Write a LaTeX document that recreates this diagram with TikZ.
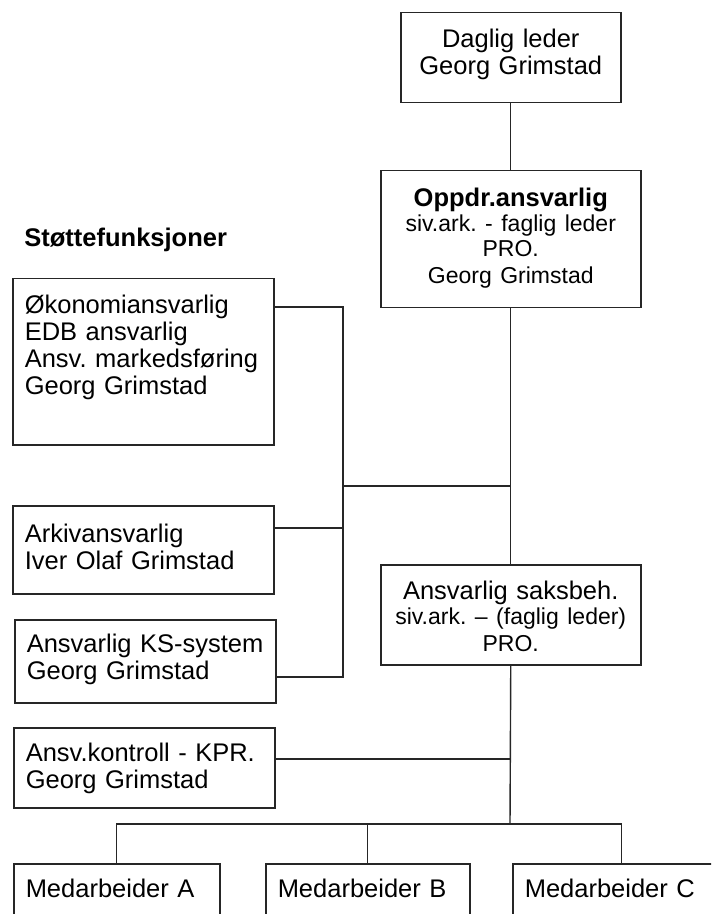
\documentclass[tikz,border=0pt]{standalone}
\usepackage{fontspec}
\setmainfont{Liberation Sans}
\usepackage{tikz}
\usetikzlibrary{positioning}

\newcommand\fbig{\fontsize{12.75pt}{13.5pt}\selectfont}
\newcommand\fsmall{\fontsize{11.5pt}{12.5pt}\selectfont}
\frenchspacing
\hyphenpenalty=10000

\tikzset{
  orgbox/.style={draw=black!85, line width=0.75pt, inner xsep=6pt, inner ysep=0pt,
    anchor=north west, font=\fbig},
  leftbox/.style={orgbox, text width=118.5pt, align=left},
  midbox/.style={orgbox, text width=118pt, align=center},
  link/.style={draw=black!85, line width=0.7pt}
}

\begin{document}
\begin{tikzpicture}[x=0.5pt, y=-0.5pt]
  \useasboundingbox (0,0) rectangle (711,914);
  \clip (0,0) rectangle (711,914);
  % Leader line (right)
  \node[orgbox, text width=98pt, align=center, text height=17.5pt, text depth=27.5pt]
    (daglig) at (400,12) {Daglig leder\\Georg Grimstad};
  \node[midbox, text height=18pt, text depth=50.5pt]
    (oppdr) at (380,170) {{\fbig\bfseries Oppdr.ansvarlig}\\\fsmall siv.ark. - faglig leder\\\fsmall PRO.\\\fsmall Georg Grimstad};
  \node[midbox, text height=17.5pt, text depth=32.5pt]
    (saksbeh) at (380,564) {Ansvarlig saksbeh.\\\fsmall siv.ark. -- (faglig leder)\\\fsmall PRO.};
  % Support functions (left)
  \node[anchor=base west, inner sep=0pt, font=\fbig\bfseries] (stotteTitle) at (24,247) {Støttefunksjoner};
  \node[leftbox, text height=17.5pt, text depth=65.5pt]
    (okonomi) at (12,278) {Økonomiansvarlig\\EDB ansvarlig\\Ansv. markedsføring\\Georg Grimstad};
  \node[leftbox, text height=18.5pt, text depth=25.5pt]
    (arkiv) at (12,505) {Arkivansvarlig\\Iver Olaf Grimstad};
  \node[leftbox, text height=16.5pt, text depth=25pt]
    (ks) at (14,619) {Ansvarlig KS-system\\Georg Grimstad};
  \node[leftbox, text height=17pt, text depth=23pt]
    (kontroll) at (13,727) {Ansv.kontroll - KPR.\\Georg Grimstad};
  % Staff (bottom)
  \node[orgbox, text width=91pt, align=left, text height=17pt, text depth=27pt]
    (medA) at (13,863) {Medarbeider A};
  \node[orgbox, text width=90pt, align=left, text height=17pt, text depth=27pt]
    (medB) at (265,863) {Medarbeider B};
  \node[orgbox, text width=97pt, align=left, text height=17pt, text depth=27pt]
    (medC) at (512,863) {Medarbeider C};
  \coordinate (stotte) at (343,486);
  \coordinate (bus) at (510,824);
  % Main line
  \draw[link] (daglig.south) -- (oppdr.north);
  \draw[link] (oppdr.south) -- (saksbeh.north);
  \draw[link] (saksbeh.south) -- (bus);
  \draw[link] (stotte) -- (stotte -| saksbeh.north);
  % Support links
  \draw[link] ([yshift=-14.5pt]okonomi.north east) -| (stotte);
  \draw[link] ([yshift=-11.5pt]arkiv.north east) -- ([yshift=-11.5pt]arkiv.north east -| stotte);
  \draw[link] ([yshift=-29pt]ks.north east) -| (stotte);
  \draw[link] ([yshift=-16pt]kontroll.north east) -- ([yshift=-16pt]kontroll.north east -| bus);
  % Staff links
  \draw[link] (medA.north) |- (bus) -| (medC.north);
  \draw[link] (medB.north) -- (medB.north |- bus);
\end{tikzpicture}
\end{document}
